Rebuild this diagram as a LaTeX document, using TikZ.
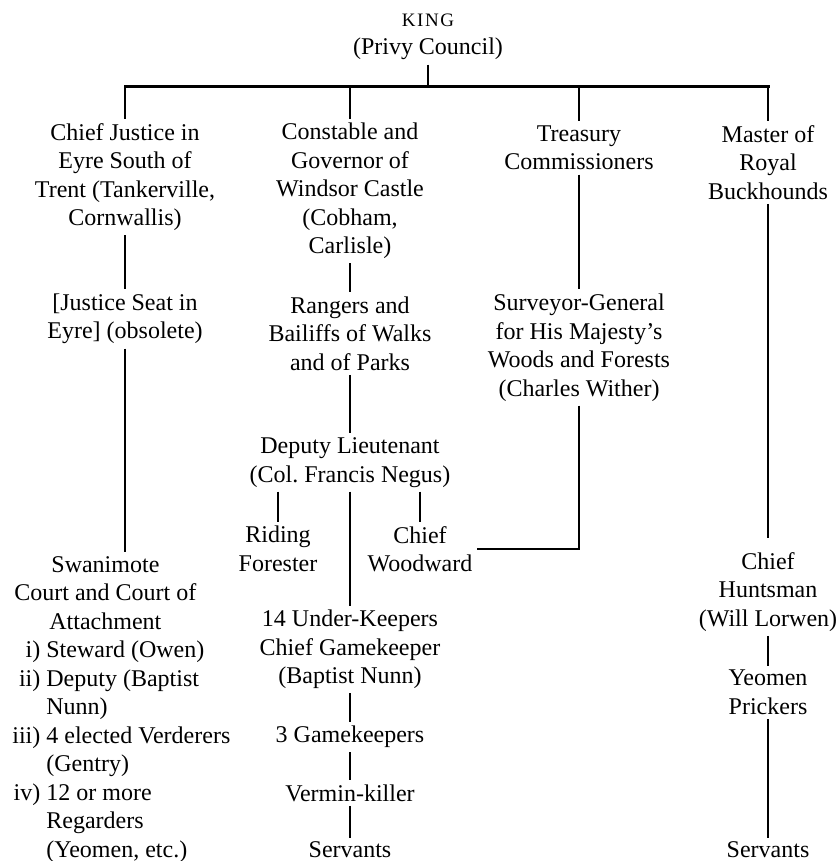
\documentclass[tikz,border=0pt]{standalone}
\usepackage{fontspec}
\setmainfont{Liberation Serif}
\begin{document}
\frenchspacing
\begin{tikzpicture}[x=0.5pt, y=-0.5pt,
  office/.style={align=center, inner sep=2pt, font=\fontsize{12}{14.25}\selectfont},
  link/.style={line width=1pt},
  barline/.style={line width=1.5pt, line cap=rect}]
\useasboundingbox (0,0) rectangle (838,861);

\node[office] (king) at (428,37) {{\fontsize{9.5}{10}\selectfont\addfontfeature{LetterSpace=8}KING}\\(Privy Council)};

\node[office] (justice) at (125,177) {Chief Justice in\\Eyre South of\\Trent (Tankerville,\\Cornwallis)};
\node[office] (windsor) at (350,191) {Constable and\\Governor of\\Windsor Castle\\(Cobham,\\Carlisle)};
\node[office] (treasury) at (579,148) {Treasury\\Commissioners};
\node[office] (hounds) at (768,162.5) {Master of\\Royal\\Buckhounds};

\node[office] (seat) at (125,319) {[Justice Seat in\\Eyre] (obsolete)};
\node[office] (rangers) at (350,333.5) {Rangers and\\Bailiffs of Walks\\and of Parks};
\node[office] (surveyor) at (579,347.5) {Surveyor-General\\for His Majesty’s\\Woods and Forests\\(Charles Wither)};

\node[office] (deputy) at (350,462.5) {Deputy Lieutenant\\(Col. Francis Negus)};
\node[office] (riding) at (278,549) {Riding\\Forester};
\node[office] (woodward) at (420,549) {Chief\\Woodward};

\node[office, anchor=north west, inner sep=0pt] (swanimote) at (12,552) {%
\begin{tabular}{@{}r@{ }l@{}}
\multicolumn{2}{@{}l}{\makebox[93pt]{Swanimote}}\\
\multicolumn{2}{@{}l}{\makebox[93pt]{Court and Court of}}\\
\multicolumn{2}{@{}l}{\makebox[93pt]{Attachment}}\\
i) & Steward (Owen)\\
ii) & Deputy (Baptist\\
 & Nunn)\\
iii) & 4 elected Verderers\\
 & (Gentry)\\
iv) & 12 or more\\
 & Regarders\\
 & (Yeomen, etc.)
\end{tabular}};

\node[office] (keepers) at (350,649.5) {14 Under-Keepers\\Chief Gamekeeper\\(Baptist Nunn)};
\node[office] (gamekeepers) at (350,737) {3 Gamekeepers};
\node[office] (vermin) at (350,793) {Vermin-killer};
\node[office] (servantsA) at (350,850) {Servants};

\node[office] (huntsman) at (768,592) {Chief\\Huntsman\\(Will Lorwen)};
\node[office] (prickers) at (768,692.5) {Yeomen\\Prickers};
\node[office] (servantsB) at (768,850) {Servants};

\coordinate (barW) at (125,87);
\coordinate (barE) at (768,87);

\draw[barline] (barW) -- (barE);
\draw[link] (king) -- (king |- barW);
\draw[link] (barW) -- (justice);
\draw[link] (windsor |- barW) -- (windsor);
\draw[link] (treasury |- barW) -- (treasury);
\draw[link] (barE) -- (hounds);

\draw[link] (justice) -- (seat);
\draw[link] (seat) -- (seat |- swanimote.north);

\draw[link] (windsor) -- (rangers);
\draw[link] (rangers) -- (deputy);
\draw[link] (deputy.south -| riding) -- (riding);
\draw[link] (deputy.south -| woodward) -- (woodward);
\draw[link] (deputy) -- (keepers);
\draw[link] (keepers) -- (gamekeepers);
\draw[link] (gamekeepers) -- (vermin);
\draw[link] (vermin) -- (servantsA);

\draw[link] (treasury) -- (surveyor);
\draw[link] (surveyor) |- (woodward);

\draw[link, line width=1.3pt, shorten >=5pt] (hounds) -- (huntsman);
\draw[link] (huntsman) -- (prickers);
\draw[link] (prickers) -- (servantsB);
\end{tikzpicture}
\end{document}
